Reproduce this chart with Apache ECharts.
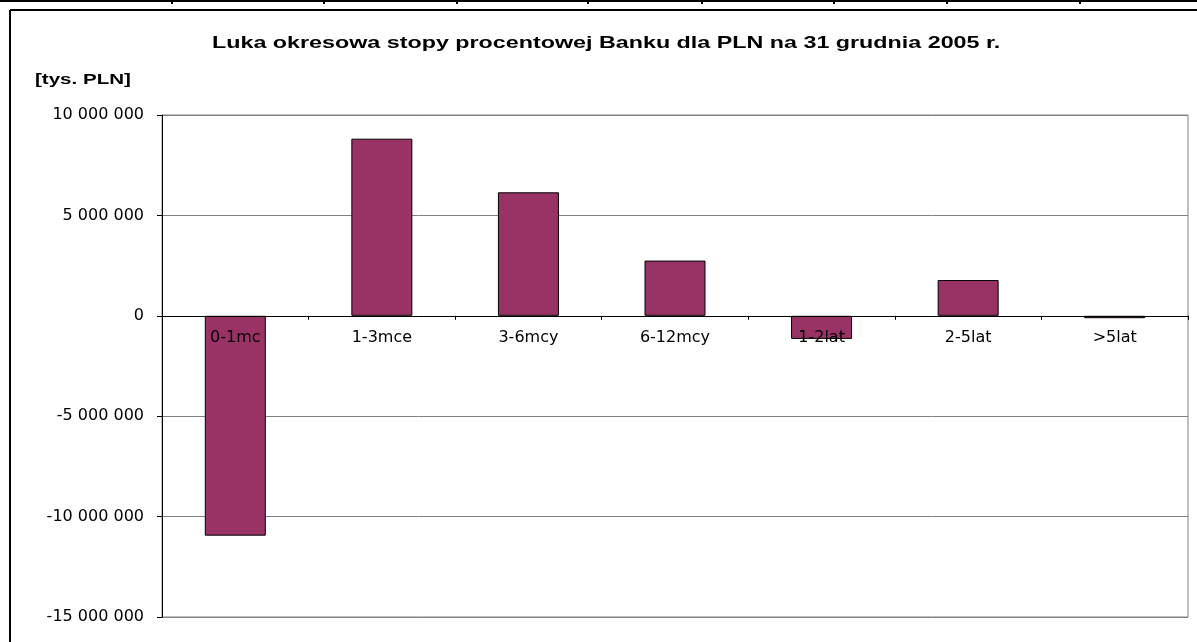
<!DOCTYPE html>
<html>
<head>
<meta charset="utf-8">
<script src="https://cdn.jsdelivr.net/npm/echarts@6/dist/echarts.min.js"></script>
<style>
html,body{margin:0;padding:0;background:#fff;}
#chart{width:1197px;height:642px;}
</style>
</head>
<body>
<div id="chart"></div>
<script>
const categories = ['0-1mc', '1-3mce', '3-6mcy', '6-12mcy', '1-2lat', '2-5lat', '>5lat'];
const gapValues = [-10950000, 8820000, 6150000, 2750000, -1150000, 1780000, -120000];
const yTicks = { min: -15000000, max: 10000000, interval: 5000000 };
const titleText = 'Luka okresowa stopy procentowej Banku dla PLN na 31 grudnia 2005 r.';
const unitText = '[tys. PLN]';

const FONT = 'DejaVu Sans';
const TFONT = '"Liberation Sans", Arial, sans-serif';
const sepX = [172, 324, 457, 588, 702, 834, 947, 1080];

function fmt(v) {
  const s = Math.abs(v).toString().replace(/\B(?=(\d{3})+(?!\d))/g, ' ');
  return (v < 0 ? '-' : '') + s;
}

const decor = [
  { type: 'line', shape: { x1: 0, y1: 1, x2: 1197, y2: 1 }, style: { stroke: '#000', lineWidth: 2 } },
  { type: 'line', shape: { x1: 10, y1: 10, x2: 1197, y2: 10 }, style: { stroke: '#000', lineWidth: 2 } },
  { type: 'line', shape: { x1: 10, y1: 10, x2: 10, y2: 642 }, style: { stroke: '#000', lineWidth: 2 } },
  { type: 'text', x: 212, y: 43, scaleX: 1.37, style: { text: titleText, font: 'bold 17px ' + TFONT, fill: '#000', verticalAlign: 'middle', align: 'left' } },
  { type: 'text', x: 35, y: 80, scaleX: 1.37, style: { text: unitText, font: 'bold 15px ' + TFONT, fill: '#000', verticalAlign: 'middle', align: 'left' } }
].concat(sepX.map(x => ({ type: 'line', shape: { x1: x, y1: 0, x2: x, y2: 4 }, style: { stroke: '#000', lineWidth: 2 } })));

const chart = echarts.init(document.getElementById('chart'), null, { renderer: 'canvas' });
chart.setOption({
  animation: false,
  backgroundColor: '#fff',
  graphic: decor,
  grid: { left: 162, right: 9, top: 115, bottom: 25, show: true, borderColor: '#808080', borderWidth: 1, backgroundColor: '#fff', containLabel: false },
  xAxis: {
    type: 'category',
    data: categories,
    z: 10,
    axisLine: { show: true, onZero: true, lineStyle: { color: '#000', width: 1 } },
    axisTick: { show: true, length: 4, lineStyle: { color: '#000' } },
    axisLabel: { show: true, formatter: () => '' },
    splitLine: { show: false }
  },
  yAxis: {
    type: 'value',
    min: yTicks.min, max: yTicks.max, interval: yTicks.interval,
    axisLine: { show: true, lineStyle: { color: '#000', width: 1 } },
    axisTick: { show: true, length: 5, lineStyle: { color: '#000' } },
    axisLabel: { margin: 18, fontFamily: FONT, fontSize: 16, color: '#000', formatter: fmt },
    splitLine: { show: true, lineStyle: { color: '#808080', width: 1 } }
  },
  series: [{
    type: 'bar',
    data: gapValues,
    barWidth: 61,
    itemStyle: { color: '#993366', borderColor: '#000', borderWidth: 1 }
  }, {
    type: 'scatter',
    data: categories.map(c => [c, 0]),
    symbolSize: 1,
    itemStyle: { color: 'rgba(0,0,0,0)' },
    silent: true,
    z: 20,
    label: { show: true, position: 'bottom', distance: 14, formatter: p => p.value[0], fontFamily: FONT, fontSize: 16, color: '#000', opacity: 1 }
  }]
});
</script>
</body>
</html>
